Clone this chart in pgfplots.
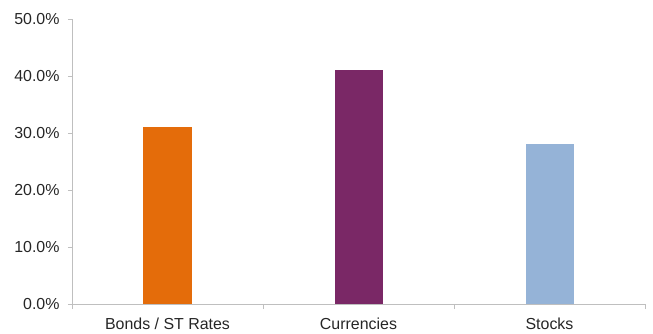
\documentclass[border=0pt]{standalone}
\usepackage{pgfplots}
\pgfplotsset{compat=1.18}
\usepackage{fontspec}
\setmainfont{Liberation Sans}
\definecolor{barorange}{HTML}{E46C0A}
\definecolor{barpurple}{HTML}{7A2866}
\definecolor{barblue}{HTML}{95B3D7}
\definecolor{axgray}{HTML}{BFBFBF}
\definecolor{txt}{HTML}{262626}
\begin{document}
\begin{tikzpicture}
\useasboundingbox (-72bp,-30bp) rectangle (581bp,304bp);
\begin{axis}[
  scale only axis,
  width=573bp, height=285bp,
  xmin=-0.5, xmax=2.5,
  ymin=0, ymax=50,
  axis lines*=left,
  axis line style={draw=axgray, line width=0.8bp},
  tick style={draw=axgray, line width=0.8bp},
  tick align=outside,
  major tick length=4bp,
  minor tick length=5bp,
  xtick={0,1,2},
  xticklabels={Bonds / ST Rates, Currencies, Stocks},
  major x tick style={draw=none},
  minor xtick={-0.5,0.5,1.5,2.5},
  ytick={0,10,20,30,40,50},
  yticklabel={\pgfmathprintnumber[fixed,fixed zerofill,precision=1]{\tick}\%},
  /pgf/number format/assume math mode=true,
  ticklabel style={font=\fontsize{16}{19}\selectfont, text=txt},
  xticklabel style={yshift=-6bp},
  yticklabel style={xshift=-5bp},
  ybar, bar width=48bp, bar shift=0pt,
]
\addplot[fill=barorange, draw=none] coordinates {(0,31)};
\addplot[fill=barpurple, draw=none] coordinates {(1,41)};
\addplot[fill=barblue, draw=none] coordinates {(2,28)};
\end{axis}
\end{tikzpicture}
\end{document}
